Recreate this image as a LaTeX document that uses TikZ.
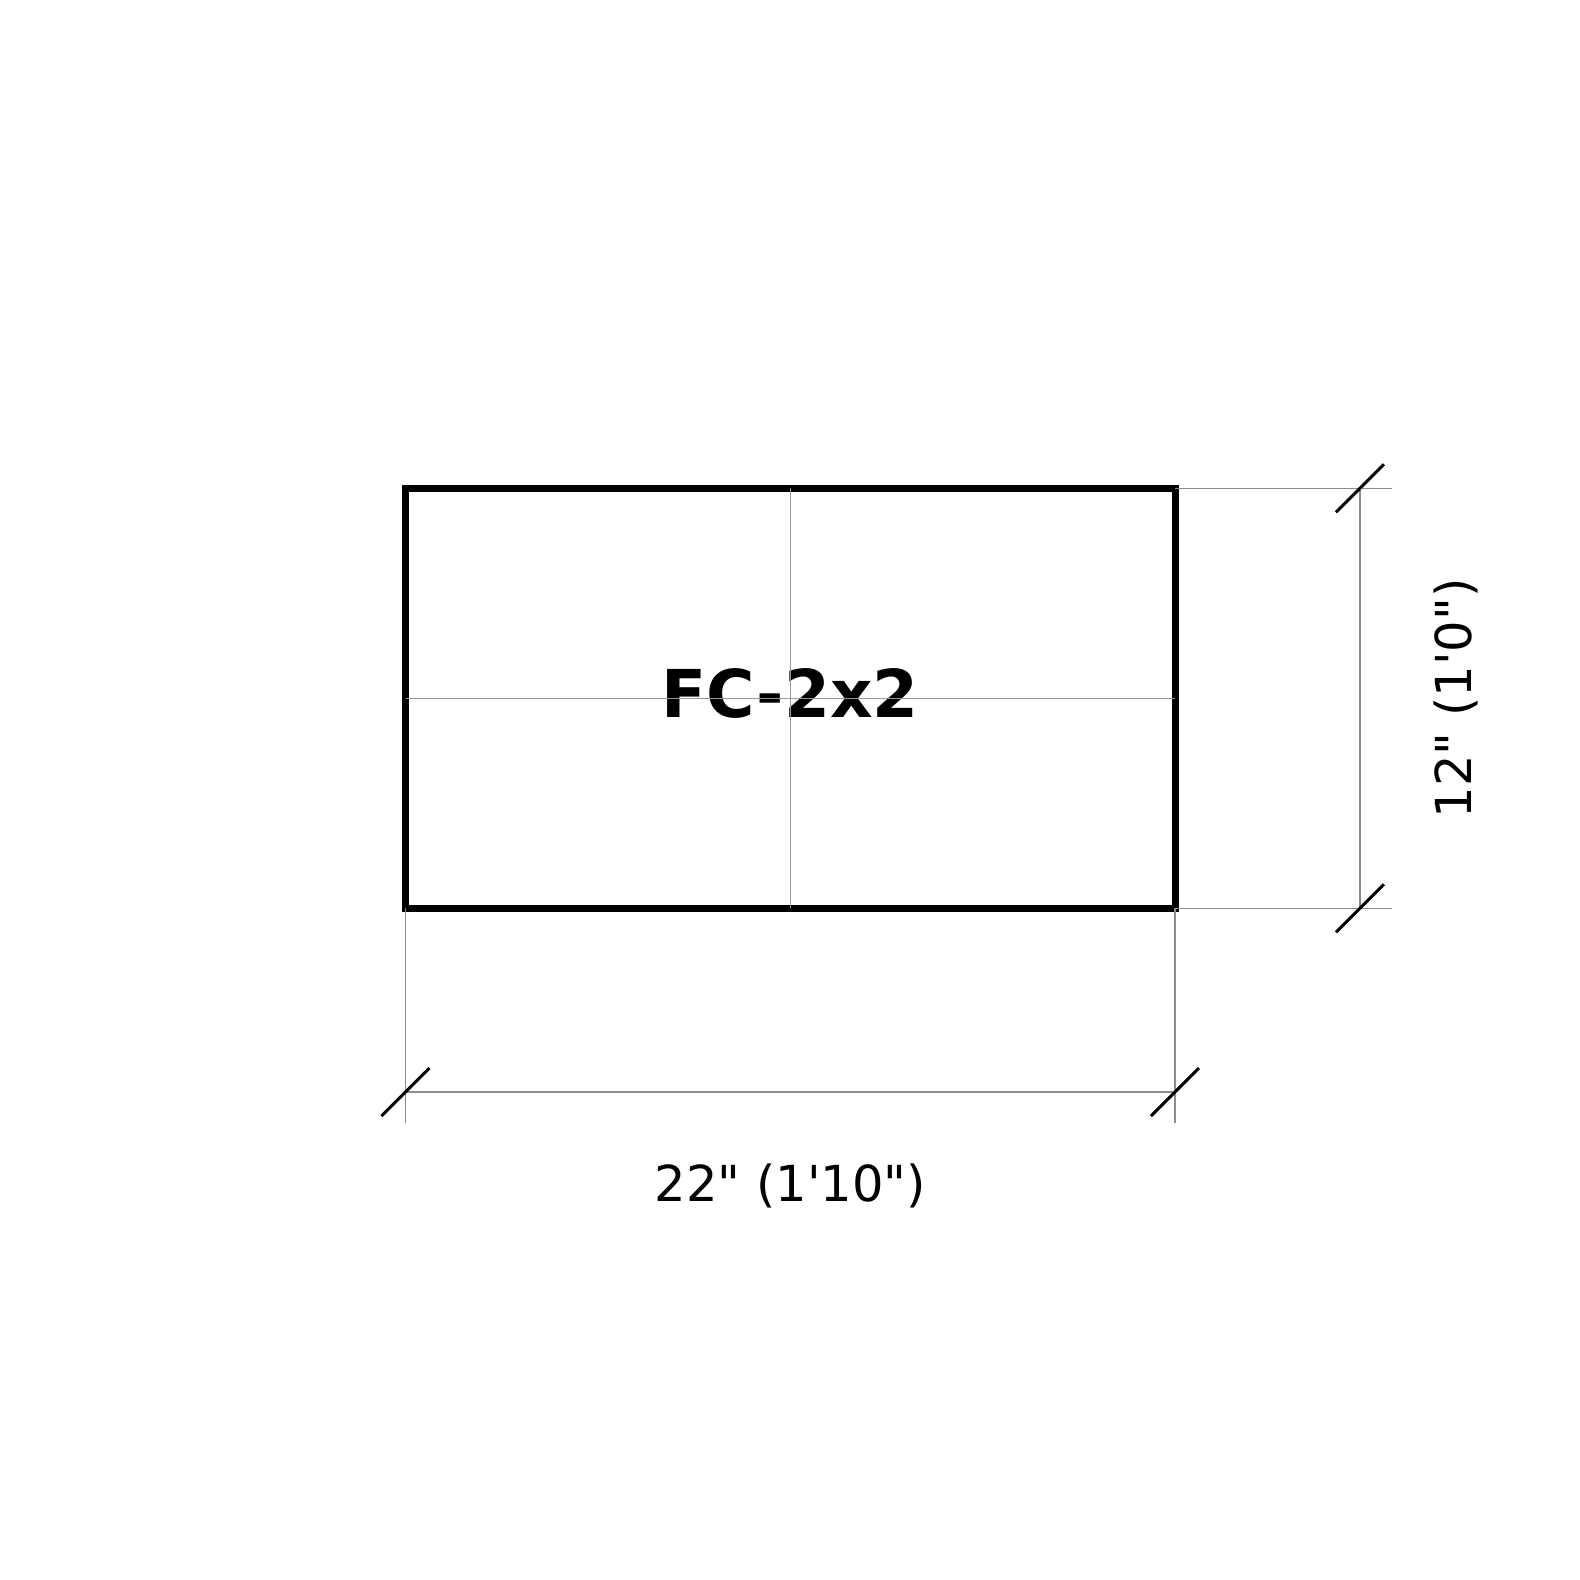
\documentclass[tikz,border=0pt]{standalone}
\usepackage{fontspec}
\setmainfont{DejaVu Sans}[Ligatures=TeXOff]
\begin{document}
\begin{tikzpicture}[x=0.5pt,y=-0.5pt,
    outline/.style={draw=black,line width=3.5pt},
    centreline/.style={draw=black!40,line width=0.75pt},
    dimline/.style={draw=black!45,line width=0.7pt},
    dimtick/.style={draw=black,line width=1.5pt},
    dimtext/.style={font=\fontsize{24.8}{30}\selectfont,anchor=base}]
  \useasboundingbox (0,0) rectangle (1580,1580);
  % fan coil outline
  \coordinate (nw) at (405.5,488.3);
  \coordinate (se) at (1175,908.3);
  \draw[outline] (nw) rectangle (se);
  \node[font=\bfseries\fontsize{33}{38}\selectfont,anchor=base] (tag) at (790.25,717.3) {FC-2x2};
  \draw[centreline] (790.25,488.3) -- (790.25,908.3);
  \draw[centreline] (405.5,698.3) -- (1175,698.3);
  % width dimension
  \draw[dimline] (405.5,908.3) -- (405.5,1123);
  \draw[dimline] (1175,908.3) -- (1175,1123);
  \coordinate (wl) at (405.5,1092);
  \coordinate (wr) at (1175,1092);
  \draw[dimline] (wl) -- (wr);
  \draw[dimtick] (wl) ++(-24,24) -- ++(48,-48);
  \draw[dimtick] (wr) ++(-24,24) -- ++(48,-48);
  \node[dimtext] (wtext) at (790.25,1201) {22" (1'10")};
  % height dimension
  \draw[dimline] (1175,488.3) -- (1391.7,488.3);
  \draw[dimline] (1175,908.3) -- (1391.7,908.3);
  \coordinate (ht) at (1360,488.3);
  \coordinate (hb) at (1360,908.3);
  \draw[dimline] (ht) -- (hb);
  \draw[dimtick] (ht) ++(-24,24) -- ++(48,-48);
  \draw[dimtick] (hb) ++(-24,24) -- ++(48,-48);
  \node[dimtext,rotate=90] (htext) at (1471.7,698.3) {12" (1'0")};
\end{tikzpicture}
\end{document}
